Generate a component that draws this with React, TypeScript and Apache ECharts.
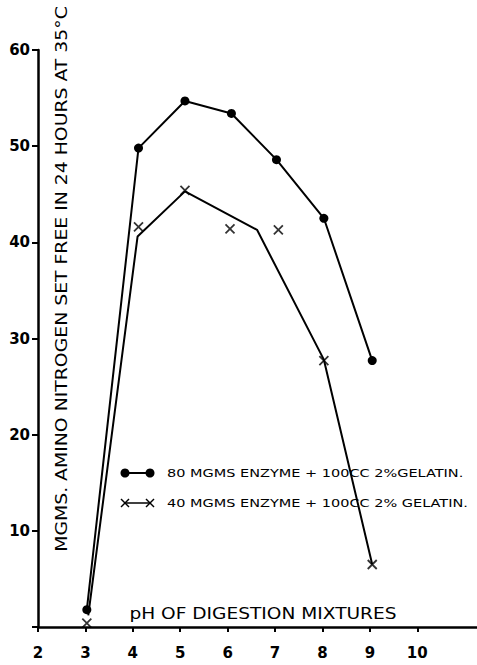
import React, { useEffect, useRef } from "react";
import * as echarts from "echarts";

const phTicks = [2, 3, 4, 5, 6, 7, 8, 9, 10];
const enzyme80 = [[3.03, 1.8], [4.12, 49.8], [5.1, 54.7], [6.08, 53.4], [7.03, 48.6], [8.03, 42.5], [9.05, 27.7]];
const enzyme40Line = [[3.06, 1.2], [4.1, 40.6], [5.1, 45.3], [6.62, 41.3], [8.03, 27.8], [9.05, 6.5]];
const enzyme40Points = [[3.03, 0.4], [4.12, 41.6], [5.1, 45.4], [6.05, 41.4], [7.07, 41.3], [8.03, 27.7], [9.05, 6.5]];
const yTitle = "MGMS. AMINO NITROGEN SET FREE IN 24 HOURS AT 35°C";
const xTitle = "pH OF DIGESTION MIXTURES";
const legend80 = "80 MGMS ENZYME + 100CC 2%GELATIN.";
const legend40 = "40 MGMS ENZYME + 100CC 2% GELATIN.";

const FONT = "DejaVu Sans";
const CROSS = "path://M0,0L10,10M10,0L0,10";

export default function App() {
  const ref = useRef<HTMLDivElement>(null);
  useEffect(() => {
    if (!ref.current) return;
    const chart = echarts.init(ref.current, undefined, { renderer: "svg" });
    const cross = (cx: number, cy: number) => [
      { type: "line", shape: { x1: cx - 4, y1: cy - 4, x2: cx + 4, y2: cy + 4 }, style: { stroke: "#000", lineWidth: 1.5 } },
      { type: "line", shape: { x1: cx + 4, y1: cy - 4, x2: cx - 4, y2: cy + 4 }, style: { stroke: "#000", lineWidth: 1.5 } },
    ];
    chart.setOption({
      animation: false,
      backgroundColor: "#fff",
      grid: { left: 38, right: 0, top: 50, bottom: 38, containLabel: false },
      xAxis: {
        type: "value",
        min: 2,
        max: 11.26,
        axisLine: { show: true, lineStyle: { color: "#000", width: 2.5 } },
        axisTick: { show: true, customValues: phTicks, length: 5, lineStyle: { color: "#000", width: 2 } },
        axisLabel: {
          customValues: phTicks,
          margin: 18,
          color: "#000",
          fontFamily: FONT,
          fontWeight: "bold",
          fontSize: 15,
        },
        splitLine: { show: false },
      },
      yAxis: {
        type: "value",
        min: 0,
        max: 60,
        interval: 10,
        axisLine: { show: true, lineStyle: { color: "#000", width: 2.5 } },
        axisTick: { show: true, length: 6, lineStyle: { color: "#000", width: 2 } },
        axisLabel: {
          margin: 8,
          color: "#000",
          fontFamily: FONT,
          fontWeight: "bold",
          fontSize: 15,
          formatter: (v: number) => (v === 0 ? "" : String(v)),
        },
        splitLine: { show: false },
      },
      series: [
        {
          type: "line",
          data: enzyme80,
          symbol: "circle",
          symbolSize: 9,
          showSymbol: true,
          lineStyle: { color: "#000", width: 2 },
          itemStyle: { color: "#000" },
        },
        {
          type: "line",
          data: enzyme40Line,
          showSymbol: false,
          symbol: "none",
          lineStyle: { color: "#000", width: 2 },
        },
        {
          type: "scatter",
          data: enzyme40Points,
          symbol: CROSS,
          symbolSize: 9,
          itemStyle: { color: "none", borderColor: "#000", borderWidth: 1.8 },
        },
      ],
      graphic: [
        {
          type: "text",
          x: 62,
          y: 279,
          rotation: Math.PI / 2,
          scaleX: 1.255,
          style: { text: yTitle, fontFamily: FONT, fontSize: 15, fill: "#000", align: "center", verticalAlign: "middle" },
        },
        {
          type: "text",
          x: 263,
          y: 614,
          scaleX: 1.24,
          style: { text: xTitle, fontFamily: FONT, fontSize: 15, fill: "#000", align: "center", verticalAlign: "middle" },
        },
        { type: "line", shape: { x1: 125, y1: 473, x2: 150, y2: 473 }, style: { stroke: "#000", lineWidth: 2 } },
        { type: "circle", shape: { cx: 125, cy: 473, r: 4.5 }, style: { fill: "#000" } },
        { type: "circle", shape: { cx: 150, cy: 473, r: 4.5 }, style: { fill: "#000" } },
        {
          type: "text",
          x: 167,
          y: 473,
          scaleX: 1.45,
          style: { text: legend80, fontFamily: FONT, fontSize: 10, fill: "#000", align: "left", verticalAlign: "middle" },
        },
        { type: "line", shape: { x1: 125, y1: 503, x2: 150, y2: 503 }, style: { stroke: "#000", lineWidth: 1.5 } },
        ...cross(125, 503),
        ...cross(150, 503),
        {
          type: "text",
          x: 167,
          y: 503,
          scaleX: 1.45,
          style: { text: legend40, fontFamily: FONT, fontSize: 10, fill: "#000", align: "left", verticalAlign: "middle" },
        },
      ],
    });
    return () => chart.dispose();
  }, []);
  return <div ref={ref} style={{ position: "fixed", left: 0, top: 0, width: 477, height: 665 }} />;
}
